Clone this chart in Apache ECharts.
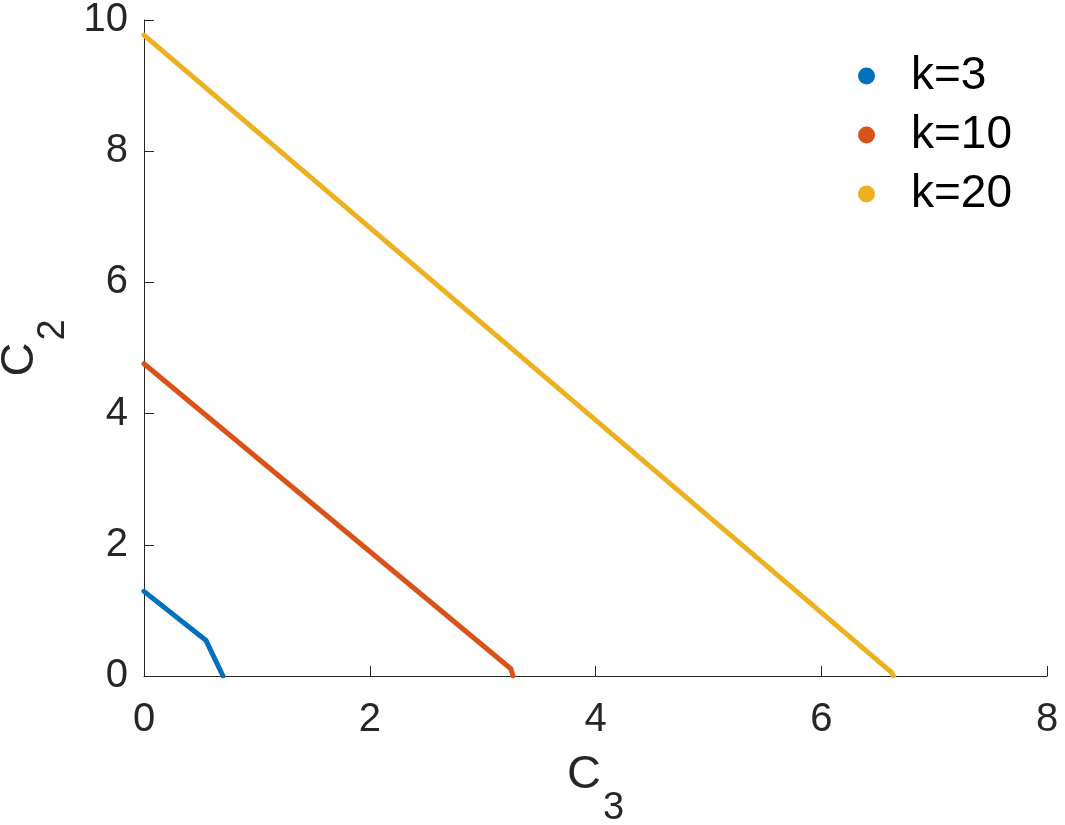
<!DOCTYPE html>
<html><head><meta charset="utf-8">
<script src="https://cdn.jsdelivr.net/npm/echarts@6/dist/echarts.min.js"></script>
<style>html,body{margin:0;padding:0;background:#fff}#c{width:1065px;height:825px}</style>
</head><body><div id="c"></div>
<script>
const seriesNames = ['k=3', 'k=10', 'k=20'];
const colors = ['#0072BD', '#D95319', '#EDB120'];
const k3_C3 = [0, 0.55, 0.70];
const k3_C2 = [1.29, 0.54, 0];
const k10_C3 = [0, 3.25, 3.27];
const k10_C2 = [4.76, 0.11, 0];
const k20_C3 = [0, 6.62, 6.64];
const k20_C2 = [9.77, 0.06, 0];
const xTicks = [0, 2, 4, 6, 8];
const yTicks = [0, 2, 4, 6, 8, 10];

function pairs(xs, ys){ return xs.map((x,i)=>[x, ys[i]]); }
const dataSets = [pairs(k3_C3,k3_C2), pairs(k10_C3,k10_C2), pairs(k20_C3,k20_C2)];

const chart = echarts.init(document.getElementById('c'), null, {renderer:'canvas'});
const axisCol = '#262626';
const font = 'Helvetica, Arial, "Liberation Sans", sans-serif';
const nameRich = {
  a:{fontSize:47, lineHeight:47, color:axisCol, fontFamily:font, verticalAlign:'top'},
  s:{fontSize:38, lineHeight:38, color:axisCol, fontFamily:font, verticalAlign:'top', padding:[38,0,0,2]}
};
chart.setOption({
  animation: false,
  textStyle: {fontFamily: font},
  grid: {left:144, right:18, top:20, bottom:149, containLabel:false, outerBoundsMode:'none'},
  legend: {
    orient: 'vertical', left: 853, top: 47,
    icon: 'circle', itemWidth: 17, itemHeight: 17, itemGap: 11,
    textStyle: {fontSize: 46, lineHeight: 48, color: '#000', fontFamily: font, padding:[0,0,0,31]},
    data: seriesNames
  },
  xAxis: {
    type: 'value', min: xTicks[0], max: xTicks[xTicks.length-1], interval: 2,
    name: '{a|C}{s|3}', nameLocation: 'middle', nameGap: 76,
    nameTextStyle: {rich: nameRich},
    axisLine: {show:true, lineStyle:{color:axisCol, width:1}},
    axisTick: {show:true, inside:true, length:10, lineStyle:{color:axisCol}},
    axisLabel: {fontSize:40, color:axisCol, margin:24, fontFamily:font},
    splitLine: {show:false}
  },
  yAxis: {
    type: 'value', min: yTicks[0], max: yTicks[yTicks.length-1], interval: 2,
    name: '{a|C}{s|2}', nameLocation: 'middle', nameGap: 72, nameRotate: 90,
    nameTextStyle: {rich: nameRich},
    axisLine: {show:true, onZero:false, lineStyle:{color:axisCol, width:1}},
    axisTick: {show:true, inside:true, length:10, lineStyle:{color:axisCol}},
    axisLabel: {fontSize:40, color:axisCol, margin:16, fontFamily:font},
    splitLine: {show:false}
  },
  series: seriesNames.map((n,i)=>({
    name: n, type: 'line', data: dataSets[i], showSymbol: false, symbol: 'circle',
    lineStyle: {width: 5, color: colors[i], cap:'round', join:'round'},
    itemStyle: {color: colors[i]}
  }))
});
</script></body></html>
